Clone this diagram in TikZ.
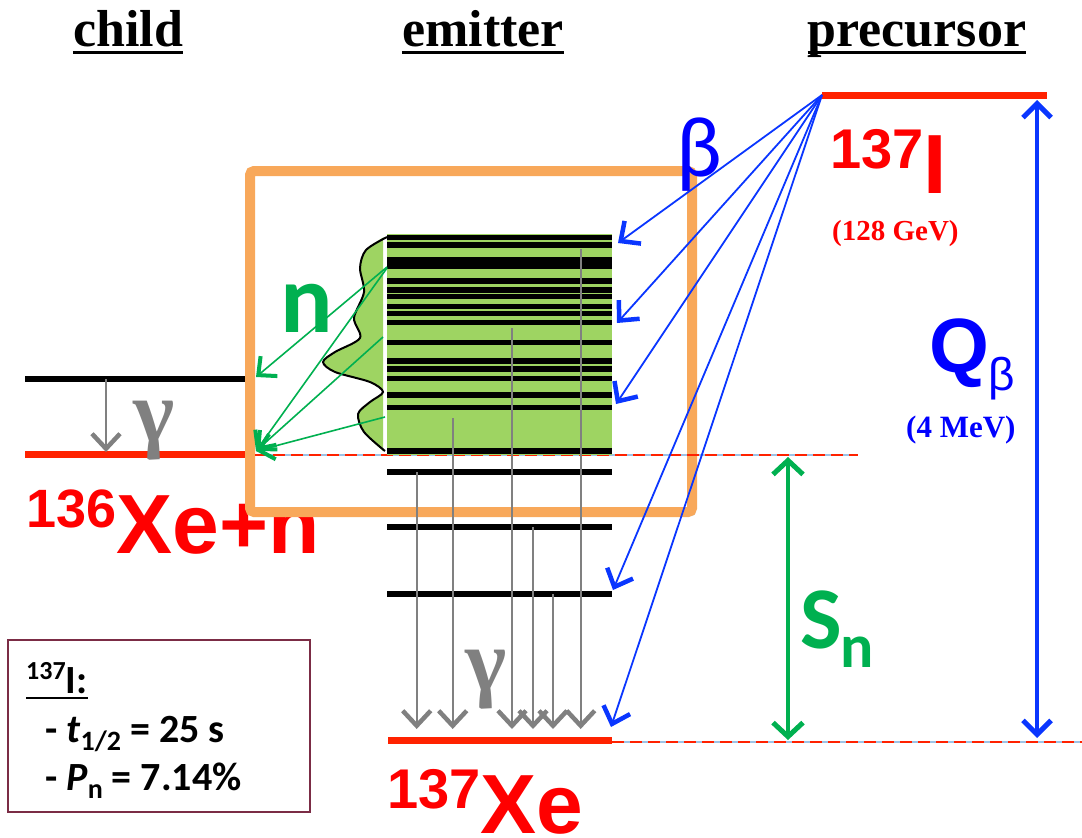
\documentclass[tikz,border=0pt]{standalone}
\usepackage{fontspec}
\setmainfont{Liberation Serif}
\newfontfamily\arialf{Liberation Sans}
\newfontfamily\calib{Carlito}
\usetikzlibrary{arrows.meta,shadows}
\definecolor{lvred}{HTML}{FF2200}
\definecolor{txred}{HTML}{FF0000}
\definecolor{arblue}{HTML}{0A36FF}
\definecolor{txblue}{HTML}{0000FF}
\definecolor{ngreen}{HTML}{00B050}
\definecolor{blockgreen}{HTML}{9ED462}
\definecolor{boxorange}{HTML}{F8A85A}
\definecolor{gammagray}{HTML}{808080}
\definecolor{boxred}{HTML}{7B2C45}
\definecolor{dashblue}{HTML}{9DC3E6}
\tikzset{
  hdr/.style={anchor=base, inner sep=0pt, font=\bfseries\fontsize{52}{52}\selectfont},
  ulin/.style={line width=3pt},
  lvl/.style={line width=5.5pt},
  redlvl/.style={draw=lvred, line width=7pt},
  bluearr/.style={draw=arblue, line width=1.8pt, -{Straight Barb[length=15pt,width=28pt,line width'=4.5pt]}},
  grayarr/.style={draw=gammagray, line width=2pt, -{Straight Barb[length=15pt,width=28pt,line width'=4.5pt]}},
  greenarr/.style={draw=ngreen, line width=1.6pt, -{Straight Barb[length=14pt,width=26pt,line width'=4pt]}},
  qarr/.style={draw=arblue, line width=3.5pt, {Straight Barb[length=14pt,width=28pt,line width'=5pt]}-{Straight Barb[length=14pt,width=28pt,line width'=5pt]}},
  snarr/.style={draw=ngreen, line width=3.5pt, {Straight Barb[length=14pt,width=30pt,line width'=5pt]}-{Straight Barb[length=14pt,width=30pt,line width'=5pt]}},
  bigred/.style={anchor=base west, inner sep=0pt, text=txred, font=\arialf\bfseries},
  boxtxt/.style={anchor=base west, inner sep=0pt, font=\calib\bfseries\fontsize{40}{40}\selectfont},
  dashbg/.style={draw=dashblue, line width=1.2pt},
  dashfg/.style={draw=lvred, line width=1.6pt, dash pattern=on 12pt off 6pt}
}
\begin{document}
\begin{tikzpicture}[x=1pt,y=-1pt]
\useasboundingbox (0,0) rectangle (1082,838);

% headers
\node[hdr] (hchild) at (128,46) {child};
\node[hdr] (hemit) at (483,46) {emitter};
\node[hdr] (hprec) at (917,46) {precursor};
\foreach \h in {hchild,hemit,hprec}
  \draw[ulin] ([yshift=-6pt]\h.base west) -- ([yshift=-6pt]\h.base east);

% 136Xe+n label (partly hidden by the box)
\node[bigred] (l136) at (26,553) {\raisebox{26pt}{\fontsize{54}{54}\selectfont 136}\fontsize{84}{84}\selectfont Xe+n};

% orange box
\node[draw=boxorange, line width=10pt, fill=white, rounded corners=4pt,
      minimum width=442pt, minimum height=341pt, inner sep=0pt,
      drop shadow={shadow xshift=4pt, shadow yshift=-4pt, opacity=0.3}] (obox) at (471,341.5) {};

% dashed reference lines
\coordinate (dA1) at (255,455); \coordinate (dA2) at (858,455);
\coordinate (dB1) at (612,742); \coordinate (dB2) at (1082,742);
\draw[dashbg] (dA1) -- (dA2); \draw[dashfg] (dA1) -- (dA2);
\draw[dashbg] (dB1) -- (dB2); \draw[dashfg] (dB1) -- (dB2);

% child levels
\coordinate (c1l) at (25,379); \coordinate (c1r) at (245,379);
\coordinate (c0l) at (25,454); \coordinate (c0r) at (245,454);
\draw[lvl] (c1l) -- (c1r);
\draw[redlvl] (c0l) -- (c0r);
\coordinate (cg1) at (106,379); \coordinate (cg2) at (106,452);
\draw[grayarr] (cg1) -- (cg2);
\node[anchor=base west, inner sep=0pt, text=gammagray, font=\bfseries\fontsize{88}{88}\selectfont] (gchild) at (133,441) {γ};

% emitter green block
\fill[blockgreen] (387,234) rectangle (612,455);
% spectrum shape
\fill[blockgreen] plot[smooth] coordinates {(384,237) (366,250) (360,268) (364,292) (354,318) (360,338) (335,352) (323,362) (335,372) (370,382) (383,392) (370,402) (358,414) (364,432) (383,451)} -- (383,237) -- cycle;
\draw[line width=2pt] plot[smooth] coordinates {(387,237) (366,250) (360,268) (364,292) (354,318) (360,338) (335,352) (323,362) (335,372) (370,382) (383,392) (370,402) (358,414) (364,432) (385,451)};

% emitter levels
\foreach \y in {237.7,245,260,266,281,290,296.7,306.7,313.7,322.3,342.3,361,369,378.3,395,407.7,451,472,527,594}
  \draw[lvl] (387,\y) -- (612,\y);
\coordinate (gsl) at (388,740); \coordinate (gsr) at (612,740);
\draw[redlvl] (gsl) -- (gsr);

% gamma cascade arrows
\foreach \x/\ys [count=\i] in {416.7/472, 452.7/418, 512/328, 533/527, 553/594, 580.7/249}{
  \coordinate (gs\i) at (\x,\ys);
  \coordinate (ge\i) at (\x,729);
  \draw[grayarr] (gs\i) -- (ge\i);
}
\node[anchor=base west, inner sep=0pt, text=gammagray, font=\bfseries\fontsize{88}{88}\selectfont] (gemit) at (465,690) {γ};

% neutron arrows
\coordinate (ns1) at (387,267); \coordinate (ns2) at (387,268);
\coordinate (ns3) at (383,337); \coordinate (ns4) at (385,417);
\coordinate (nt1) at (256,377); \coordinate (nt2) at (256,451);
\draw[greenarr] (ns1) -- (nt1);
\draw[greenarr] (ns2) -- (nt2);
\draw[greenarr] (ns3) -- (nt2);
\draw[greenarr] (ns4) -- (nt2);
\node[anchor=base west, inner sep=0pt, text=ngreen, font=\calib\bfseries\fontsize{98}{98}\selectfont] (nlab) at (280,332) {n};

% precursor level
\coordinate (pl) at (822,95); \coordinate (pr) at (1047,95);
\draw[redlvl] (pl) -- (pr);
\node[bigred] (l137i) at (830,193) {\raisebox{25pt}{\fontsize{56}{56}\selectfont 137}\fontsize{84}{84}\selectfont I};
\node[anchor=base west, inner sep=0pt, text=txred, font=\bfseries\fontsize{29}{29}\selectfont] (gev) at (832,240) {(128 GeV)};

% beta arrows
\foreach \x/\y [count=\i] in {618/243, 617/323, 616/404, 613/590, 611/727}{
  \coordinate (bt\i) at (\x,\y);
  \draw[bluearr] (pl) -- (bt\i);
}
\node[anchor=base west, inner sep=0pt, text=txblue, font=\calib\fontsize{86}{86}\selectfont] (beta) at (676,176) {β};

% Q beta
\coordinate (qt) at (1037,100); \coordinate (qb) at (1037,738);
\draw[qarr] (qt) -- (qb);
\node[anchor=base west, inner sep=0pt, text=txblue, font=\arialf\bfseries\fontsize{77}{77}\selectfont] (qlab) at (929,372) {Q};
\node[anchor=base west, inner sep=0pt, text=txblue, font=\arialf\fontsize{46}{46}\selectfont] (qsub) at (988,390) {β};
\node[anchor=base west, inner sep=0pt, text=txblue, font=\bfseries\fontsize{31}{31}\selectfont] (mev) at (906,437) {(4 MeV)};

% S_n
\coordinate (st) at (788,457); \coordinate (sb) at (788,740);
\draw[snarr] (st) -- (sb);
\node[anchor=base west, inner sep=0pt, text=ngreen, font=\calib\bfseries\fontsize{88}{88}\selectfont] (slab) at (800,648) {S};
\node[anchor=base west, inner sep=0pt, text=ngreen, font=\calib\bfseries\fontsize{62}{62}\selectfont] (ssub) at (840,667) {n};

% 137Xe label
\node[bigred] (l137xe) at (387,833) {\raisebox{25pt}{\fontsize{56}{56}\selectfont 137}\fontsize{84}{84}\selectfont Xe};

% info box
\node[draw=boxred, line width=2pt, minimum width=302pt, minimum height=172pt, inner sep=0pt] (info) at (159,726) {};
\node[boxtxt] (i1) at (26,693) {\raisebox{14pt}{\fontsize{26}{26}\selectfont 137}I:};
\draw[line width=2.5pt] ([yshift=-5pt]i1.base west) -- ([yshift=-5pt]i1.base east);
\node[boxtxt] (i2) at (45,742) {- \textit{t}\raisebox{-8pt}{\fontsize{28}{28}\selectfont 1/2} = 25 s};
\node[boxtxt] (i3) at (45,790) {- \textit{P}\raisebox{-8pt}{\fontsize{28}{28}\selectfont n} = 7.14\%};
\end{tikzpicture}
\end{document}
